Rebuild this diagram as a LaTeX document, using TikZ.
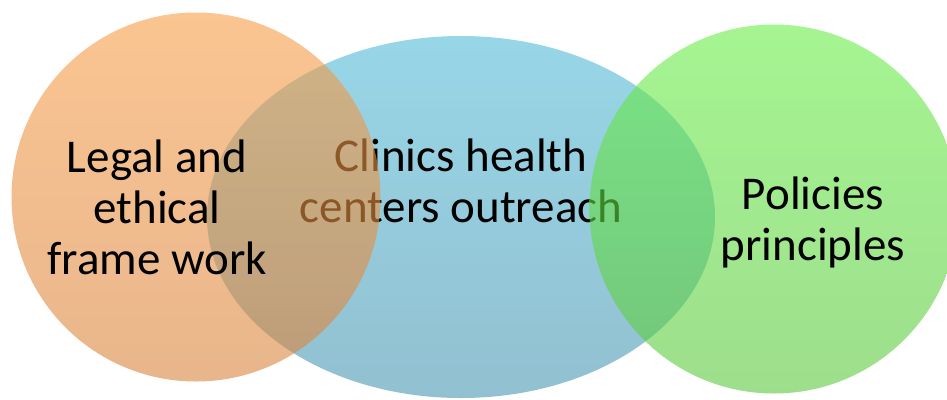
\documentclass[tikz,border=0pt]{standalone}
\usepackage{fontspec}
\setmainfont{Carlito}
\usepackage{tikz}
\usetikzlibrary{shapes.geometric}

\definecolor{legalTop}{RGB}{248,158,72}
\definecolor{legalBot}{RGB}{217,133,63}
\definecolor{clinicTop}{RGB}{82,187,215}
\definecolor{clinicBot}{RGB}{73,150,177}
\definecolor{policyTop}{RGB}{105,238,72}
\definecolor{policyBot}{RGB}{92,200,63}

\begin{document}
\begin{tikzpicture}[x=1pt,y=-1pt,
		blob/.style={inner sep=0pt, outer sep=0pt, fill opacity=0.6, draw=none},
		lbl/.style={align=center, inner sep=0pt, text=black,
			font=\fontsize{47}{51}\selectfont}]
		\useasboundingbox (0,0) rectangle (947,399);
		
		\node[blob, ellipse, minimum width=508pt, minimum height=362pt,
			top color=clinicTop, bottom color=clinicBot] (clinics) at (461,217) {};
		\node[lbl] (clinicsText) at (461,181) {Clinics health\\centers outreach};
		
		\node[blob, circle, minimum size=369pt,
			top color=legalTop, bottom color=legalBot] (legal) at (196,197) {};
		\node[lbl] (legalText) at (157,207) {Legal and\\ethical\\frame work};
		
		\node[blob, circle, minimum size=369pt,
			top color=policyTop, bottom color=policyBot] (policies) at (774,209) {};
		\node[lbl] (policiesText) at (813,222) {Policies\\principles};
	\end{tikzpicture}
\end{document}
